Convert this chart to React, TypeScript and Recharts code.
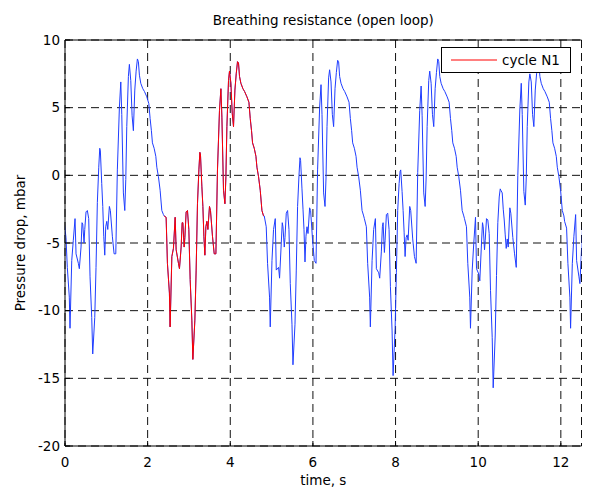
import React from "react";
import {
  LineChart,
  Line,
  XAxis,
  YAxis,
  CartesianGrid,
  Legend,
} from "recharts";

// time inside one breathing cycle, s (same sampling in every cycle)
const phase = [
  0.0, 0.048, 0.08, 0.128, 0.145, 0.187, 0.225, 0.267, 0.291, 0.347,
  0.371, 0.412, 0.436, 0.453, 0.485, 0.502, 0.533, 0.565, 0.598, 0.63,
  0.671, 0.695, 0.744, 0.775, 0.807, 0.841, 0.865, 0.88, 0.913, 0.938,
  0.962, 0.986, 1.01, 1.035, 1.059, 1.098, 1.122, 1.17, 1.212, 1.253,
  1.291, 1.34, 1.374, 1.398, 1.437, 1.471, 1.495, 1.519, 1.558, 1.582,
  1.616, 1.648, 1.679, 1.713, 1.745, 1.776, 1.8, 1.825, 1.858, 1.907,
  1.946, 2.004, 2.052, 2.084, 2.115, 2.14, 2.181, 2.222, 2.246, 2.285,
  2.326, 2.367, 2.406,
];

const cycleStart = [-0.024, 2.399, 4.822, 7.245, 9.668, 12.091];

// pressure drop, mbar
const cycle0 = [
  -3.3, -4.6, -6.8, -9.0, -11.3, -6.3, -4.8, -3.2, -5.8, -6.5,
  -6.9, -5.3, -3.5, -3.6, -5.0, -4.0, -2.7, -2.6, -3.2, -7.5,
  -10.5, -13.2, -10.5, -6.8, -2.0, 0.6, 2.0, 1.8, -0.6, -2.3,
  -4.5, -5.9, -3.8, -3.4, -4.0, -2.3, -2.6, -4.5, -5.8, -5.8,
  0.4, 5.0, 6.9, 4.5, -1.3, -2.6, -0.3, 3.6, 7.3, 8.2,
  7.0, 4.4, 3.3, 6.3, 7.7, 8.6, 8.4, 7.4, 6.8, 6.4,
  6.2, 5.8, 5.3, 4.2, 3.3, 2.4, 2.0, 1.4, 0.6, -0.1,
  -1.1, -2.6, -2.9,
];
const cycle1 = [
  -3.0, -3.1, -6.5, -8.7, -11.2, -6.0, -5.4, -3.1, -5.5, -6.5,
  -6.9, -5.3, -3.5, -3.5, -5.3, -4.6, -2.7, -2.6, -4.0, -7.7,
  -10.7, -13.6, -10.7, -7.0, -2.1, 0.4, 1.7, 1.5, -0.8, -2.3,
  -4.5, -5.9, -3.8, -3.4, -4.0, -2.3, -2.6, -4.5, -5.8, -5.8,
  0.4, 4.8, 6.4, 4.3, -1.1, -2.1, -0.1, 3.6, 7.0, 7.7,
  6.8, 4.6, 3.6, 6.3, 7.5, 8.4, 8.3, 7.3, 6.8, 6.4,
  6.2, 5.8, 5.4, 4.2, 3.3, 2.4, 2.0, 1.4, 0.6, -0.1,
  -1.1, -2.6, -3.0,
];
const cycle2 = [
  -3.0, -3.8, -6.5, -9.0, -11.2, -6.3, -4.0, -3.2, -7.0, -6.8,
  -7.6, -5.0, -3.5, -3.8, -5.3, -4.6, -2.8, -2.6, -4.0, -8.0,
  -11.0, -14.0, -11.0, -7.0, -2.3, 0.0, 1.3, 1.1, -1.0, -2.5,
  -4.0, -6.4, -4.5, -3.8, -4.3, -2.4, -2.6, -4.8, -6.3, -6.5,
  0.4, 5.0, 6.7, 4.5, -1.3, -2.3, -0.2, 3.6, 7.2, 7.8,
  6.9, 4.5, 3.6, 6.4, 7.6, 8.5, 8.4, 7.3, 6.8, 6.4,
  6.2, 5.8, 5.4, 4.2, 3.3, 2.4, 2.0, 1.4, 0.6, -0.1,
  -1.1, -2.6, -3.0,
];
const cycle3 = [
  -3.2, -3.8, -6.5, -9.0, -11.2, -6.3, -4.0, -3.2, -6.9, -7.2,
  -7.6, -5.6, -3.8, -3.5, -5.7, -4.8, -2.9, -2.8, -4.0, -8.2,
  -11.5, -14.8, -11.3, -7.2, -2.6, -0.6, 0.3, 0.4, -1.2, -2.6,
  -4.2, -6.0, -4.6, -4.4, -4.8, -2.3, -2.6, -4.7, -6.0, -6.5,
  0.2, 4.8, 6.6, 4.4, -1.3, -2.3, -0.2, 3.6, 7.0, 7.7,
  6.8, 4.5, 3.6, 6.4, 7.6, 8.6, 8.4, 7.3, 6.8, 6.4,
  6.2, 5.8, 5.4, 4.2, 3.3, 2.4, 2.0, 1.4, 0.6, -0.1,
  -1.1, -2.6, -3.0,
];
const cycle4 = [
  -3.2, -3.8, -6.5, -9.0, -11.3, -7.0, -5.0, -3.1, -6.9, -7.3,
  -7.8, -5.0, -3.5, -3.8, -5.5, -4.8, -3.2, -3.3, -4.3, -8.5,
  -12.0, -15.7, -11.8, -7.4, -3.5, -1.6, -1.0, -1.1, -1.3, -2.5,
  -3.3, -4.4, -5.4, -4.7, -5.3, -2.4, -2.8, -4.6, -5.8, -6.8,
  0.0, 4.9, 6.8, 4.5, -1.2, -2.2, -0.2, 3.6, 6.9, 7.5,
  6.9, 4.5, 3.6, 6.3, 7.5, 8.4, 8.3, 7.3, 6.8, 6.4,
  6.2, 5.8, 5.4, 4.2, 3.3, 2.4, 2.0, 1.4, 0.6, -0.1,
  -1.1, -2.6, -3.0,
];
const cycle5 = [
  -3.4, -3.9, -6.5, -9.0, -11.3, -6.5, -4.5, -2.9, -6.3, -7.5,
  -8.0, -5.3, -3.5,
];

const cycles = [cycle0, cycle1, cycle2, cycle3, cycle4, cycle5];
const highlighted = 1; // "cycle N1"

const xTicks = [0, 2, 4, 6, 8, 10, 12];
const yTicks = [-20, -15, -10, -5, 0, 5, 10];

const data = cycles.flatMap((vals, k) =>
  vals.map((v, i) => ({
    t: cycleStart[k] + phase[i],
    p: v,
    n1: k === highlighted ? v : null,
  }))
);

const font = "'DejaVu Sans', 'Liberation Sans', Arial, sans-serif";
const fs = 13.5;
const ink = "#000";

function LegendBox(props: any) {
  const items = (props.payload || []).filter((p: any) => p.type !== "none");
  return (
    <div
      style={{
        width: 128,
        height: 24,
        border: "1px solid #000",
        background: "#fff",
        display: "flex",
        alignItems: "center",
        fontFamily: font,
        fontSize: fs,
        color: "#000",
      }}
    >
      {items.map((it: any) => (
        <React.Fragment key={it.value}>
          <svg width={60} height={24}>
            <line x1={9} x2={55} y1={12} y2={12} stroke={it.color} strokeWidth={1} />
          </svg>
          <span>{it.value}</span>
        </React.Fragment>
      ))}
    </div>
  );
}

export default function App() {
  return (
    <div style={{ position: "absolute", left: 0, top: 0, background: "#fff" }}>
      <LineChart
        width={608}
        height={487}
        data={data}
        margin={{ top: 0, right: 26.5, bottom: 0, left: 0 }}
        style={{ fontFamily: font }}
      >
        <CartesianGrid stroke="#111" strokeDasharray="8 5" />
        <XAxis
          dataKey="t"
          type="number"
          domain={[0, 12.5]}
          ticks={xTicks}
          allowDataOverflow
          height={41}
          tickSize={-5}
          tickMargin={16}
          axisLine={{ stroke: ink }}
          tickLine={{ stroke: ink }}
          tick={{ fill: ink, fontSize: fs }}
          label={{ value: "time, s", position: "insideBottom", offset: 2, fill: ink, fontSize: fs }}
        />
        <XAxis
          xAxisId="top"
          orientation="top"
          type="number"
          domain={[0, 12.5]}
          ticks={xTicks}
          allowDataOverflow
          height={40}
          tickSize={-5}
          tick={false}
          axisLine={{ stroke: ink }}
          tickLine={{ stroke: ink }}
          label={{ value: "Breathing resistance (open loop)", position: "center", fill: ink, fontSize: fs }}
        />
        <YAxis
          type="number"
          domain={[-20, 10]}
          ticks={yTicks}
          allowDataOverflow
          width={65}
          tickSize={-5}
          tickMargin={10}
          axisLine={{ stroke: ink }}
          tickLine={{ stroke: ink }}
          tick={{ fill: ink, fontSize: fs }}
          label={{
            value: "Pressure drop, mbar",
            angle: -90,
            position: "insideLeft",
            offset: 20,
            fill: ink,
            fontSize: fs,
            style: { textAnchor: "middle" },
          }}
        />
        <YAxis
          yAxisId="right"
          orientation="right"
          type="number"
          domain={[-20, 10]}
          ticks={yTicks}
          allowDataOverflow
          width={0}
          tickSize={-5}
          tick={false}
          axisLine={{ stroke: ink }}
          tickLine={{ stroke: ink }}
        />
        <Line
          dataKey="p"
          type="linear"
          stroke="#1f3dff"
          strokeWidth={1}
          dot={false}
          legendType="none"
          isAnimationActive={false}
        />
        <Line
          dataKey="n1"
          name="cycle N1"
          type="linear"
          stroke="#ff0000"
          strokeWidth={1}
          dot={false}
          isAnimationActive={false}
        />
        <Legend
          layout="horizontal"
          verticalAlign="middle"
          align="center"
          wrapperStyle={{ left: 441, top: 47, width: 130, height: 26 }}
          content={(p: any) => <LegendBox {...p} />}
        />
      </LineChart>
    </div>
  );
}
